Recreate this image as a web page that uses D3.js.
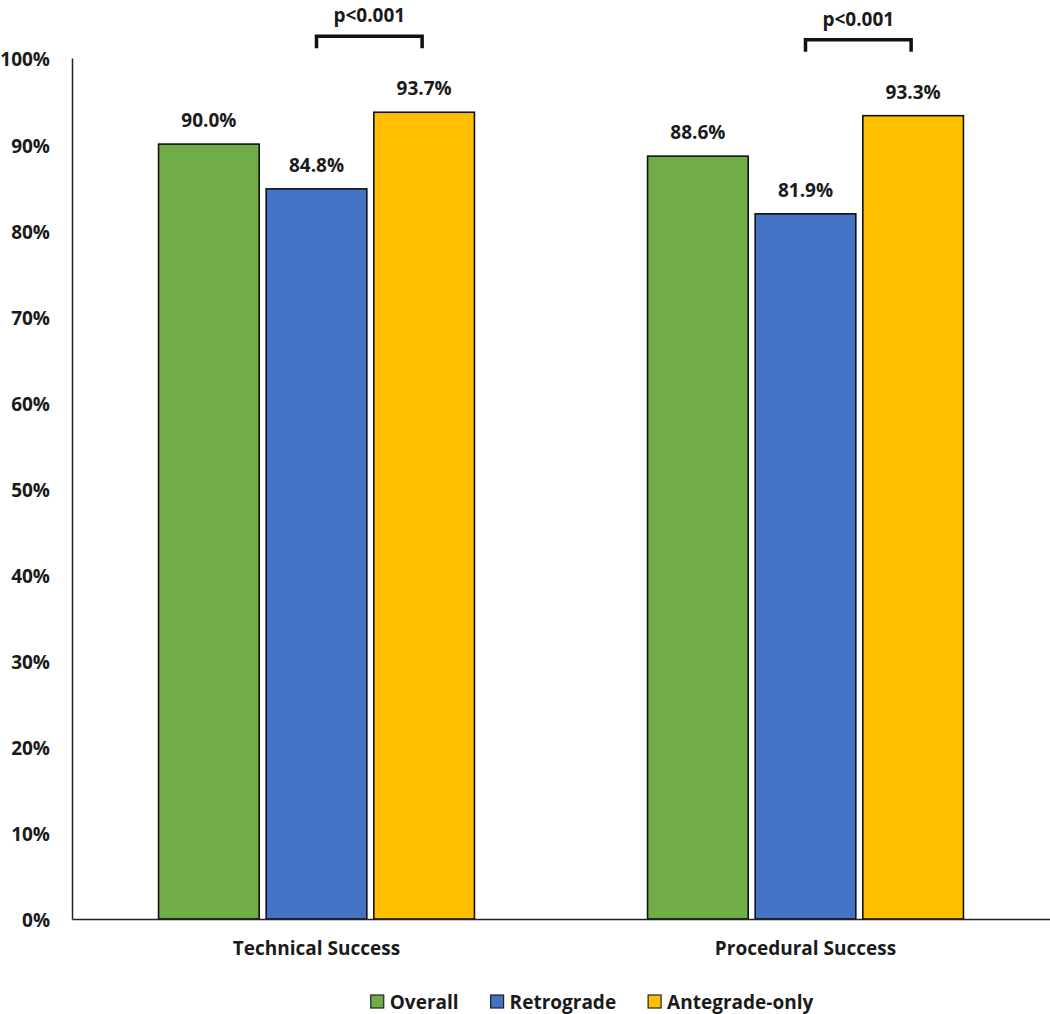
<!DOCTYPE html>
<html>
<head>
<meta charset="utf-8">
<script src="https://cdn.jsdelivr.net/npm/d3@7"></script>
<style>
  html, body { margin: 0; padding: 0; background: #fff; }
  svg { display: block; }
  text { font-family: "Open Sans", "DejaVu Sans", sans-serif; font-weight: bold; fill: #1a1a1a; }
</style>
</head>
<body>
<svg id="chart" width="1050" height="1014"></svg>
<script>
// ---- data ----
const categories = ["Technical Success", "Procedural Success"];
const seriesNames = ["Overall", "Retrograde", "Antegrade-only"];
const seriesColors = ["#70AD47", "#4472C4", "#FFC000"];
const overallValues = [90.0, 88.6];
const retrogradeValues = [84.8, 81.9];
const antegradeValues = [93.7, 93.3];
const yTickValues = [0, 10, 20, 30, 40, 50, 60, 70, 80, 90, 100];
const brackets = [
  { category: "Technical Success", from: "Retrograde", to: "Antegrade-only", label: "p<0.001" },
  { category: "Procedural Success", from: "Retrograde", to: "Antegrade-only", label: "p<0.001" }
];

const seriesValues = [overallValues, retrogradeValues, antegradeValues];
const rows = [];
categories.forEach((c, i) => {
  seriesNames.forEach((s, j) => rows.push({ category: c, series: s, value: seriesValues[j][i], color: seriesColors[j] }));
});

// ---- layout ----
const svg = d3.select("#chart");
const plotLeft = 72, plotRight = 1050, plotTop = 58, plotBottom = 919;

const x0 = d3.scaleBand().domain(categories).range([plotLeft, plotRight]).paddingInner(0.354).paddingOuter(0.177);
const x1 = d3.scaleBand().domain(seriesNames).range([0, x0.bandwidth()]).paddingInner(0.065);
const y = d3.scaleLinear().domain([0, 100]).range([plotBottom, plotTop]);

// y axis
const yAxis = d3.axisLeft(y).tickValues(yTickValues).tickSize(0).tickPadding(22).tickFormat(d => d + "%");
const gy = svg.append("g").attr("transform", `translate(${plotLeft},0)`).call(yAxis);
gy.select(".domain").attr("stroke", "#222").attr("stroke-width", 1.5);
gy.selectAll("text").attr("font-size", 19).attr("dy", "0.42em").attr("fill", "#1a1a1a")
  .style("font-family", '"Open Sans", sans-serif').style("font-weight", "bold");

// bars
svg.append("g").selectAll("rect").data(rows).join("rect")
  .attr("x", d => x0(d.category) + x1(d.series))
  .attr("y", d => y(d.value))
  .attr("width", x1.bandwidth())
  .attr("height", d => y(0) - y(d.value))
  .attr("fill", d => d.color)
  .attr("stroke", "#111").attr("stroke-width", 1.6);

// x axis
const xAxis = d3.axisBottom(d3.scaleBand().domain(categories).range([plotLeft, plotRight])).tickSize(0).tickPadding(23);
const gx = svg.append("g").attr("transform", `translate(0,${plotBottom})`).call(xAxis);
gx.select(".domain").attr("stroke", "#222").attr("stroke-width", 1.5);
gx.selectAll("text").attr("font-size", 19).attr("fill", "#1a1a1a")
  .style("font-family", '"Open Sans", sans-serif').style("font-weight", "bold");

// value labels
svg.append("g").selectAll("text").data(rows).join("text")
  .attr("x", d => x0(d.category) + x1(d.series) + x1.bandwidth() / 2)
  .attr("y", d => y(d.value) - 17)
  .attr("text-anchor", "middle")
  .attr("font-size", 19)
  .text(d => d.value.toFixed(1) + "%");

// significance brackets
brackets.forEach(b => {
  const xa = x0(b.category) + x1(b.from) + x1.bandwidth() / 2;
  const xb = x0(b.category) + x1(b.to) + x1.bandwidth() / 2 - 2;
  const maxVal = d3.max(rows.filter(r => r.category === b.category), r => r.value);
  const yb = y(maxVal) - 76;
  svg.append("path")
    .attr("d", `M${xa},${yb + 12}V${yb}H${xb}V${yb + 12}`)
    .attr("fill", "none").attr("stroke", "#111").attr("stroke-width", 3.5);
  svg.append("text")
    .attr("x", (xa + xb) / 2).attr("y", yb - 14)
    .attr("text-anchor", "middle").attr("font-size", 19)
    .text(b.label);
});

// legend
const legend = svg.append("g");
let cx = 0;
seriesNames.forEach((s, i) => {
  const g = legend.append("g").attr("transform", `translate(${cx},0)`);
  g.append("rect").attr("x", 0).attr("y", -7).attr("width", 13).attr("height", 13)
    .attr("fill", seriesColors[i]).attr("stroke", "#222").attr("stroke-width", 1.2);
  const t = g.append("text").attr("x", 19).attr("y", 0).attr("dy", "0.36em").attr("font-size", 19).text(s);
  cx += 19 + t.node().getComputedTextLength() + 32;
});
const legendWidth = cx - 32;
legend.attr("transform", `translate(${592 - legendWidth / 2},1002)`);
</script>
</body>
</html>
